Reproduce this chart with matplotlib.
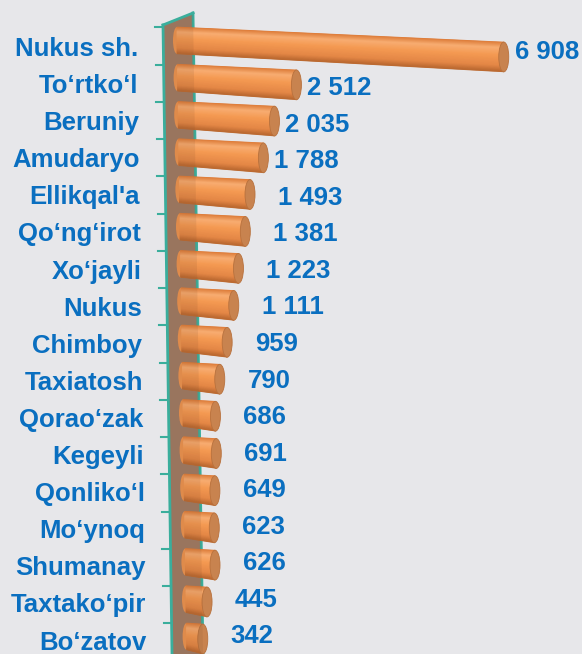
import numpy as np
import matplotlib
matplotlib.use("Agg")
import matplotlib.pyplot as plt
from matplotlib.patches import Polygon, Ellipse
from matplotlib.colors import LinearSegmentedColormap

# data
districts = ["Nukus sh.", "To‘rtko‘l", "Beruniy", "Amudaryo", "Ellikqal'a",
             "Qo‘ng‘irot", "Xo‘jayli", "Nukus", "Chimboy", "Taxiatosh",
             "Qorao‘zak", "Kegeyli", "Qonliko‘l", "Mo‘ynoq", "Shumanay",
             "Taxtako‘pir", "Bo‘zatov"]
values = [6908, 2512, 2035, 1788, 1493, 1381, 1223, 1111, 959, 790,
          686, 691, 649, 623, 626, 445, 342]
value_labels = ["6 908", "2 512", "2 035", "1 788", "1 493", "1 381", "1 223",
                "1 111", "959", "790", "686", "691", "649", "623", "626",
                "445", "342"]

W, H = 582, 654
BG = "#E7E7EA"
BLUE = "#0A6FC0"
TEAL = "#3AAE9C"
WALL = "#9E7B66"

# pixel <-> data mapping (value 0 at px 177, row 0 at px 46)
X0_PX, PX_PER_UNIT = 177.0, 0.0473
Y0_PX, PX_PER_ROW = 46.0, 37.25


def px_x(p):
    return (p - X0_PX) / PX_PER_UNIT


def px_y(p):
    return (p - Y0_PX) / PX_PER_ROW


plt.rcParams["font.family"] = ["Liberation Sans", "DejaVu Sans"]

fig = plt.figure(figsize=(W / 100, H / 100), dpi=100, facecolor=BG)
ax = fig.add_axes([0, 0, 1, 1])
ax.set_facecolor(BG)
ax.set_xlim(px_x(0), px_x(W))
ax.set_ylim(px_y(H), px_y(0))
ax.axis("off")

# slanted back wall
wall_pts = [(163, 25), (193, 13), (203, 654), (172, 654)]
wall_xy = [(px_x(a), px_y(b)) for a, b in wall_pts]
ax.add_patch(Polygon(wall_xy, closed=True, facecolor=WALL, edgecolor="none", zorder=1))
ax.plot([wall_xy[0][0], wall_xy[3][0]], [wall_xy[0][1], wall_xy[3][1]], color=TEAL, lw=2, zorder=5)
ax.plot([wall_xy[1][0], wall_xy[2][0]], [wall_xy[1][1], wall_xy[2][1]], color=TEAL, lw=2, zorder=1.5)
ax.plot([wall_xy[0][0], wall_xy[1][0]], [wall_xy[0][1], wall_xy[1][1]], color=TEAL, lw=2, zorder=5)

# category ticks on the wall's left edge
for k in range(len(values) + 1):
    yb = k - 0.5
    ypx = Y0_PX + yb * PX_PER_ROW
    xl = 163 + (172 - 163) * (ypx - 25) / (654 - 25)
    ax.plot([px_x(xl - 8), px_x(xl)], [yb, yb], color=TEAL, lw=1.5, zorder=5)

# cylinder shading
cyl = LinearSegmentedColormap.from_list(
    "cyl", [(0, "#DC7A36"), (0.2, "#F8AD72"), (0.45, "#F59A52"),
            (0.8, "#E48746"), (1, "#B96830")])
cap_w = 10 / PX_PER_UNIT
n_strip = 40

for i, v in enumerate(values):
    x0 = 0.6 * i / PX_PER_UNIT          # base follows the slanted wall
    x1 = x0 + v
    hl, hr = 0.72, 0.80
    cl = i - 0.15
    cr = cl + 0.05 + 5.7e-5 * v
    # left rounded end
    ax.add_patch(Ellipse((x0, cl), cap_w * 0.8, hl, facecolor="#EE9450", edgecolor="none", zorder=2))
    for s in range(n_strip):
        t0, t1 = s / n_strip, (s + 1) / n_strip
        c = cyl((t0 + t1) / 2)
        ax.add_patch(Polygon([(x0, cl - hl / 2 + t0 * hl), (x1, cr - hr / 2 + t0 * hr),
                              (x1, cr - hr / 2 + t1 * hr), (x0, cl - hl / 2 + t1 * hl)],
                             closed=True, facecolor=c, edgecolor=c, lw=0.5, zorder=3))
    # right end cap
    ax.add_patch(Ellipse((x1, cr), cap_w, hr, facecolor="#C8834F",
                         edgecolor="#B8713D", lw=0.6, zorder=4))
    # value label (Excel puts short-bar labels a little farther out)
    gap = 6 if v > 1600 else 23
    ax.text(x1 + (gap + 5) / PX_PER_UNIT, i + 0.16 - 0.02 * i, value_labels[i],
            ha="left", va="center", fontsize=18.5, fontweight="bold", color=BLUE, zorder=6)
    # category label
    ax.text(px_x(138 + 0.55 * i), i + 0.08 - 0.004 * i, districts[i], ha="right", va="center",
            fontsize=18.5, fontweight="bold", color=BLUE, zorder=6)

# faint wall tint over the bars' left ends
ax.add_patch(Polygon(wall_xy, closed=True, facecolor="#7A4A2A", alpha=0.12,
                     edgecolor="none", zorder=4.5))

fig.savefig("out.png", dpi=100, facecolor=BG)
